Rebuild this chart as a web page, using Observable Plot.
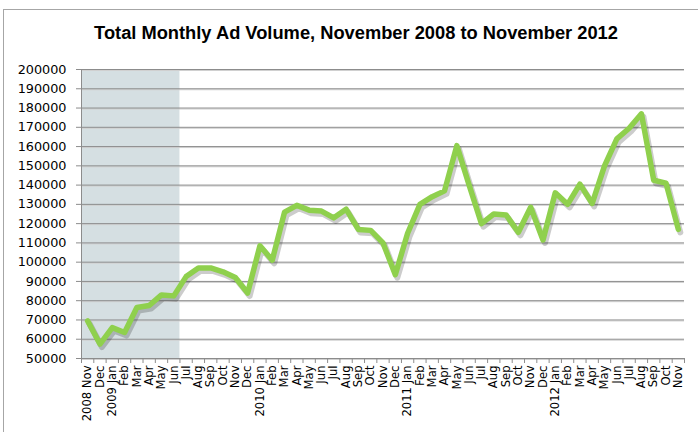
<!DOCTYPE html>
<html>
<head>
<meta charset="utf-8">
<script src="https://cdn.jsdelivr.net/npm/d3@7"></script>
<script src="https://cdn.jsdelivr.net/npm/@observablehq/plot@0.6"></script>
<style>
  html, body { margin: 0; padding: 0; background: #fff; }
  body { width: 698px; height: 432px; overflow: hidden; position: relative; }
  #frame { position: absolute; left: 3px; top: 9px; width: 720px; height: 450px; border: 1px solid #a6a6a6; box-sizing: border-box; }
  #title { position: absolute; top: 22px; left: 356px; transform: translateX(-50%); white-space: nowrap;
           font-family: "Liberation Sans", Arial, sans-serif; font-weight: bold; font-size: 18.3px; line-height: 22px; color: #000; }
  #chart { position: absolute; top: 50px; left: 0; }
</style>
</head>
<body>
<div id="frame"></div>
<div id="title">Total Monthly Ad Volume, November 2008 to November 2012</div>
<div id="chart"></div>
<script>
const months = [
  "2008 Nov","Dec",
  "2009 Jan","Feb","Mar","Apr","May","Jun","Jul","Aug","Sep","Oct","Nov","Dec",
  "2010 Jan","Feb","Mar","Apr","May","Jun","Jul","Aug","Sep","Oct","Nov","Dec",
  "2011 Jan","Feb","Mar","Apr","May","Jun","Jul","Aug","Sep","Oct","Nov","Dec",
  "2012 Jan","Feb","Mar","Apr","May","Jun","Jul","Aug","Sep","Oct","Nov"
];
const volume = [
  69500, 57500,
  66000, 63500, 76500, 77500, 83000, 82500, 92500, 97000, 97000, 95000, 92000, 84000,
  108500, 101000, 126000, 129500, 127000, 126500, 123000, 127500, 117000, 116500, 110000, 93500,
  115000, 130000, 134000, 137000, 160500, 140000, 120000, 125000, 124500, 115500, 128500, 111500,
  136000, 130000, 140500, 130500, 150000, 164000, 169500, 177000, 142500, 141000, 117000
];
const yTicks = d3.range(50000, 200001, 10000);
// shaded period: 2008 Nov through 2009 Jun (first "Jun" in the list)
const shadedMonths = ["2008 Nov", "Jun"];

const data = months.map((m, i) => ({i, month: m, value: volume[i]}));
const shadeFrom = months.indexOf(shadedMonths[0]);
const shadeTo = months.indexOf(shadedMonths[1]);
const shade = [{x1: shadeFrom - 0.5, x2: shadeTo + 0.5, y1: yTicks[0], y2: yTicks[yTicks.length - 1]}];
const boundaries = d3.range(months.length + 1).map(i => i - 0.5);

const chart = Plot.plot({
  width: 698,
  height: 382,
  marginTop: 19,
  marginBottom: 74,
  marginLeft: 81,
  marginRight: 14,
  style: {fontFamily: "DejaVu Sans, sans-serif", fontSize: "12.8px", color: "#000", background: "transparent"},
  x: {type: "linear", domain: [-0.5, months.length - 0.5]},
  y: {domain: [yTicks[0], yTicks[yTicks.length - 1]]},
  marks: [
    Plot.rect(shade, {x1: "x1", x2: "x2", y1: "y1", y2: "y2", fill: "#d5dfe2"}),
    Plot.gridY(yTicks, {stroke: "#d0d0d0", strokeOpacity: 1, strokeWidth: 1, dy: 1}),
    Plot.gridY(yTicks, {stroke: "#8c8c8c", strokeOpacity: 1, strokeWidth: 1}),
    Plot.ruleX([-0.5], {stroke: "#8c8c8c", strokeWidth: 1}),
    Plot.ruleY([yTicks[0]], {stroke: "#8c8c8c", strokeWidth: 1}),
    Plot.axisY({ticks: yTicks, tickSize: 5, tickPadding: 10, stroke: "#8c8c8c", fill: "#000", tickFormat: d => String(d), label: null}),
    Plot.axisX({ticks: boundaries, tickSize: 5, stroke: "#8c8c8c", tickFormat: () => "", label: null}),
    Plot.axisX({ticks: d3.range(months.length), tickSize: 0, tickPadding: 7, tickRotate: -90, fontSize: 11.6, fill: "#000", tickFormat: i => months[i], label: null}),
    Plot.line(data, {x: "i", y: "value", stroke: "#000", strokeOpacity: 0.2, strokeWidth: 6, dx: 2, dy: 3, strokeLinejoin: "round"}),
    Plot.line(data, {x: "i", y: "value", stroke: "#8fd04d", strokeWidth: 5.5, strokeLinejoin: "round", strokeLinecap: "round"})
  ]
});
document.getElementById("chart").appendChild(chart);
</script>
</body>
</html>
